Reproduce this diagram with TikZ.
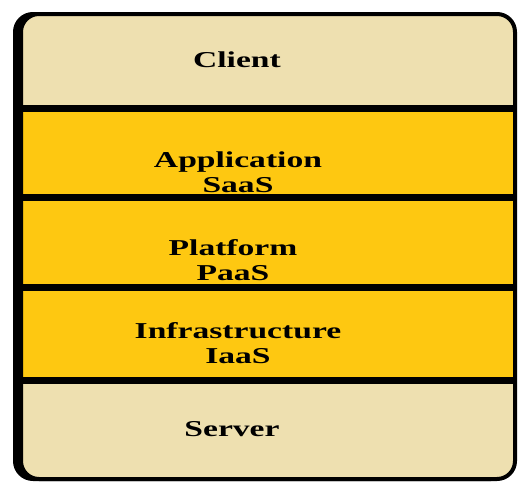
\documentclass[tikz,border=0pt]{standalone}
\usepackage{fontspec}
\setmainfont{Liberation Serif}
\usetikzlibrary{positioning}
\usepackage{xcolor}
\definecolor{layertan}{HTML}{EEE0B0}
\definecolor{layergold}{HTML}{FEC811}
\newcommand{\widetext}[1]{\scalebox{1.48}[1]{#1}}

\begin{document}
\begin{tikzpicture}[x=1pt, y=-1pt,
			band/.style={rectangle, inner sep=0pt, minimum width=494pt, anchor=north west},
			layertext/.style={font=\fontsize{22.7}{25}\selectfont\bfseries, align=center, inner sep=0pt},
			divider/.style={line width=7pt},
			frame/.style={line width=4pt, rounded corners=18pt}
			]
			\useasboundingbox (0,0) rectangle (520,482);
			
			% shadow on the left
			\draw[frame, fill=black, xshift=-6pt] (21,14) rectangle (515,479);
			
			\begin{scope}
				\clip[rounded corners=18pt] (21,14) rectangle (515,479);
				\node[band, fill=layertan, minimum height=94.5pt] (client) at (21,14) {};
				\node[band, fill=layergold, minimum height=88pt, below=0pt of client] (app) {};
				\node[band, fill=layergold, minimum height=90pt, below=0pt of app] (plat) {};
				\node[band, fill=layergold, minimum height=92pt, below=0pt of plat] (infra) {};
				\node[band, fill=layertan, minimum height=101pt, below=0pt of infra] (server) {};
			\end{scope}
			
			\draw[divider] (client.south west) -- (client.south east);
			\draw[divider] (app.south west) -- (app.south east);
			\draw[divider] (plat.south west) -- (plat.south east);
			\draw[divider] (infra.south west) -- (infra.south east);
			
			\draw[frame] (21,14) rectangle (515,479);
			
			\node[layertext] (clienttext) at (237,60) {\widetext{Client}};
			\node[layertext] (apptext) at (238,172) {\widetext{Application}\\\widetext{SaaS}};
			\node[layertext] (plattext) at (233,260.5) {\widetext{Platform}\\\widetext{PaaS}};
			\node[layertext] (infratext) at (238,343) {\widetext{Infrastructure}\\\widetext{IaaS}};
			\node[layertext] (servertext) at (232,429.5) {\widetext{Server}};
		\end{tikzpicture}
\end{document}
